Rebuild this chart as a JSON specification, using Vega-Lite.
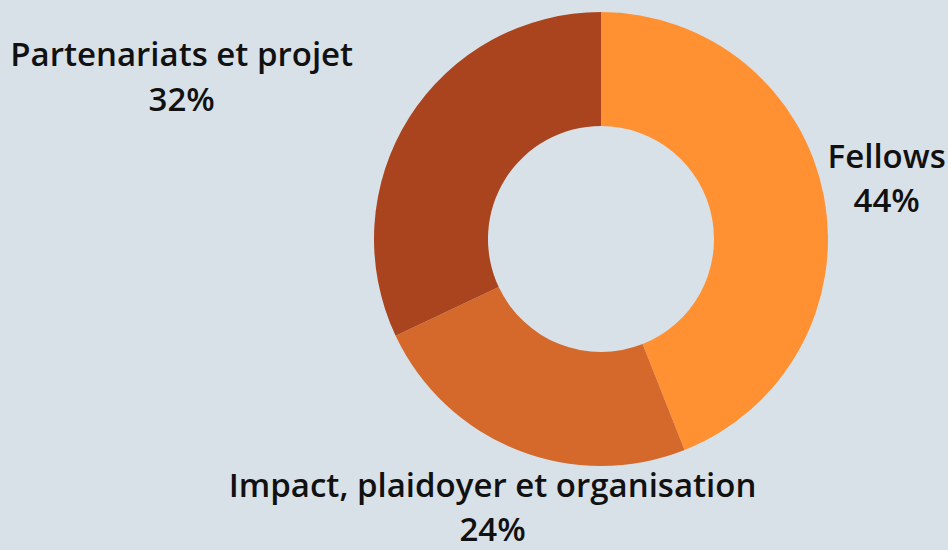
{
  "$schema": "https://vega.github.io/schema/vega-lite/v6.json",
  "width": 454,
  "height": 454,
  "autosize": {"type": "none"},
  "padding": {"left": 374, "top": 12, "right": 120, "bottom": 84},
  "background": "#D9E1E8",
  "config": {"view": {"stroke": null}},
  "data": {
    "values": [
      {"category": "Fellows", "value": 44, "label": "Fellows\n44%"},
      {"category": "Impact, plaidoyer et organisation", "value": 24, "label": "Impact, plaidoyer et organisation\n24%"},
      {"category": "Partenariats et projet", "value": 32, "label": "Partenariats et projet\n32%"}
    ]
  },
  "encoding": {
    "theta": {"field": "value", "type": "quantitative", "stack": true},
    "order": {"field": "category", "type": "nominal", "sort": "ascending"}
  },
  "layer": [
    {
      "mark": {"type": "arc", "outerRadius": 227, "innerRadius": 113},
      "encoding": {
        "color": {
          "field": "category",
          "type": "nominal",
          "scale": {
            "domain": ["Fellows", "Impact, plaidoyer et organisation", "Partenariats et projet"],
            "range": ["#FF9133", "#D5692B", "#A9441E"]
          },
          "legend": null
        }
      }
    },
    {
      "mark": {"type": "text", "radius": 300, "dx": -9, "dy": -25, "font": "Open Sans", "fontSize": 33, "fontWeight": 600, "lineBreak": "\n", "lineHeight": 44.5, "color": "#111111"},
      "encoding": {
        "detail": {"field": "category", "type": "nominal"},
        "text": {"condition": {"test": "datum.category === 'Fellows'", "field": "label", "type": "nominal"}, "value": ""}
      }
    },
    {
      "mark": {"type": "text", "radius": 300, "dx": 2, "dy": -31, "font": "Open Sans", "fontSize": 33, "fontWeight": 600, "lineBreak": "\n", "lineHeight": 44.5, "color": "#111111"},
      "encoding": {
        "detail": {"field": "category", "type": "nominal"},
        "text": {"condition": {"test": "datum.category === 'Impact, plaidoyer et organisation'", "field": "label", "type": "nominal"}, "value": ""}
      }
    },
    {
      "mark": {"type": "text", "radius": 300, "dx": -166, "dy": -22, "font": "Open Sans", "fontSize": 33, "fontWeight": 600, "lineBreak": "\n", "lineHeight": 44.5, "color": "#111111"},
      "encoding": {
        "detail": {"field": "category", "type": "nominal"},
        "text": {"condition": {"test": "datum.category === 'Partenariats et projet'", "field": "label", "type": "nominal"}, "value": ""}
      }
    }
  ]
}
